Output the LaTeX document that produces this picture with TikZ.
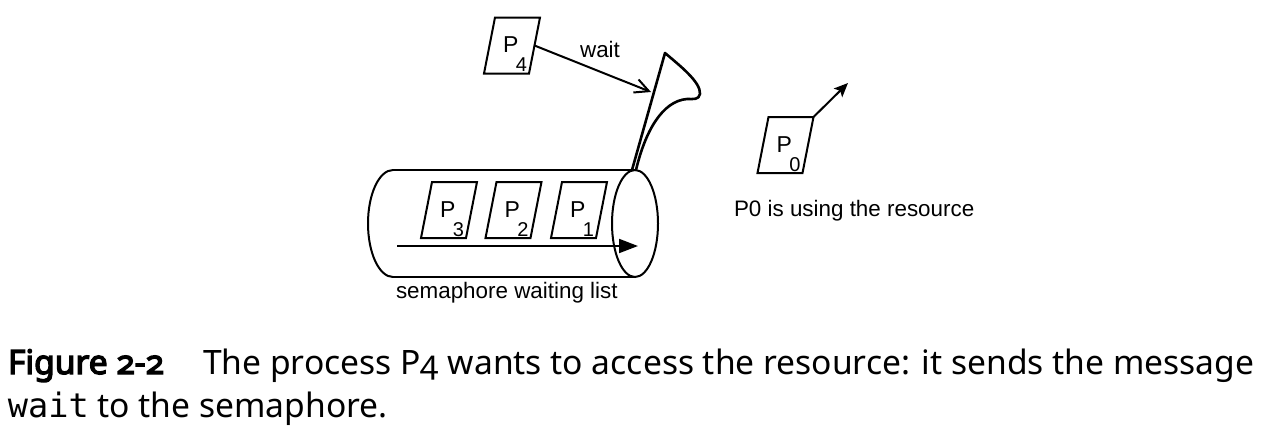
\documentclass[tikz,border=0pt]{standalone}
\usepackage{fontspec}
\setmainfont{Liberation Sans}
\newfontfamily\capfont{Noto Sans}[Numbers=OldStyle]
\newfontfamily\capboldfont{Noto Sans}[Numbers=OldStyle, FakeBold=4]
\newfontfamily\capmono{DejaVu Sans Mono}
\usetikzlibrary{arrows.meta,calc}
\tikzset{
  every node/.style={inner sep=0pt, outer sep=0pt},
  diag/.style={line width=2pt},
  procbox/.style={minimum width=45pt, minimum height=56pt},
  lbl/.style={font=\fontsize{22.4}{26}\selectfont},
  plbl/.style={font=\fontsize{23}{26}\selectfont},
  captext/.style={font=\capfont\fontsize{33.6}{40}\selectfont, anchor=base west},
}
\newcommand\procnode[4]{%
  \node[procbox] (#1) at (#2,#3) {};
  \draw[diag, line join=miter]
    ($(#1.north west)+(5.5,0)$) -- ($(#1.north east)+(5.5,0)$) --
    ($(#1.south east)+(-5.5,0)$) -- ($(#1.south west)+(-5.5,0)$) -- cycle;
  \node[plbl, anchor=base west] (#1t) at ($(#1.center)+(-9,7)$)
    {P\kern-2.5pt\raisebox{-19pt}{\fontsize{20}{20}\selectfont #4}};
}
\begin{document}
\begin{tikzpicture}[x=1pt,y=-1pt]
\useasboundingbox (0,0) rectangle (1264,426);

% cylinder (semaphore waiting list)
\coordinate (cyltl) at (393,170);
\coordinate (cyltr) at (635,170);
\coordinate (cylbl) at (393,277);
\coordinate (cylbr) at (635,277);
\draw[diag] (cyltl) -- (cyltr);
\draw[diag] (cylbl) -- (cylbr);
\draw[diag] (cyltl) arc[start angle=270, end angle=90, x radius=25, y radius=53.5];
\draw[diag] (635,223.5) ellipse[x radius=23, y radius=53.5];
\coordinate (qa) at (397,246);
\coordinate (qb) at (638,246);
\draw[diag, -{Triangle[length=19pt, width=14pt]}] (qa) -- (qb);

% processes in the queue
\procnode{P3}{449}{210}{3}
\procnode{P2}{513.5}{210}{2}
\procnode{P1}{579}{210}{1}

% semaphore horn
\coordinate (hb) at (632,170);
\coordinate (ht) at (665,53);
\draw[line width=2.6pt, line join=round, line cap=round]
  (hb) -- (ht) .. controls (679,65) and (701,82) .. (700,94)
  .. controls (699,100) and (693,99) .. (687,99)
  .. controls (662,101) and (645,132) .. (636,170);

% P4 sending wait
\procnode{P4}{512}{45.5}{4}
\coordinate (wt) at (651,92);
\draw[diag, -{Straight Barb[length=14pt, width=14pt]}] (P4.east) -- (wt);
\node[lbl, anchor=base] (waitlbl) at (600,57) {wait};

% P0 using the resource
\procnode{P0}{785.5}{145}{0}
\coordinate (p0a) at (848,83);
\draw[diag, -{Stealth[length=14pt, width=12pt, inset=3pt]}] ($(P0.north east)+(5.5,0)$) -- (p0a);
\node[lbl, anchor=base west] (p0lbl) at (734,216) {P0 is using the resource};

\node[lbl, anchor=base west] (qlbl) at (396,298) {semaphore waiting list};

% caption
\node[captext] (fig) at (8,374) {\capboldfont Figure 2-2};
\node[captext] (cap1) at (203,374) {The process P4 wants to access the resource: it sends the message};
\node[captext] (cap2) at (8,417) {{\capmono wait} to the semaphore.};
\end{tikzpicture}
\end{document}
